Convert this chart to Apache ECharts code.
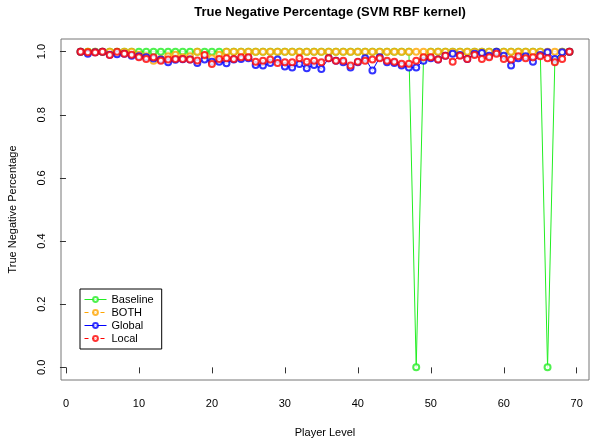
<!DOCTYPE html>
<html>
<head>
<meta charset="utf-8">
<script src="https://cdn.jsdelivr.net/npm/echarts@6/dist/echarts.min.js"></script>
<style>
    html, body { margin: 0; padding: 0; background: #fff; }
    #chart { width: 590px; height: 440px; }
</style>
</head>
<body>
<div id="chart"></div>
<script>
// player levels 2..69
var levels = [];
for (var l = 2; l <= 69; l++) levels.push(l);

// values, one per level (rows of 10 levels: 2-11, 12-21, ...)
var baseline = [
    1, 1, 1, 1, 1, 1, 1, 1, 1, 1,
    1, 1, 1, 1, 1, 1, 1, 1, 1, 1,
    1, 1, 1, 1, 1, 1, 1, 1, 1, 1,
    1, 1, 1, 1, 1, 1, 1, 1, 1, 1,
    1, 1, 1, 1, 1, 1, 0, 0.98, 1, 1,
    1, 1, 1, 1, 1, 1, 1, 1, 1, 1,
    1, 1, 1, 1, 0, 0.97, 1, 1
];
var both = [
    1, 1, 1, 1, 1, 0.995, 1, 1, 0.99, 0.985,
    0.971, 0.977, 0.985, 0.99, 0.982, 0.985, 1, 0.987, 0.979, 0.99,
    1, 1, 1, 1, 1, 1, 1, 1, 1, 1,
    1, 1, 1, 1, 1, 1, 1, 1, 1, 1,
    1, 1, 1, 1, 1, 1, 1, 1, 1, 1,
    1, 1, 1, 1, 1, 1, 1, 1, 1, 1,
    1, 1, 1, 1, 1, 1, 1, 1
];
var globalVals = [
    1, 0.993, 0.998, 1, 0.99, 0.992, 0.993, 0.987, 0.985, 0.982,
    0.978, 0.975, 0.966, 0.974, 0.976, 0.975, 0.964, 0.975, 0.968, 0.968,
    0.963, 0.975, 0.977, 0.979, 0.958, 0.956, 0.964, 0.975, 0.953, 0.95,
    0.961, 0.947, 0.958, 0.945, 0.979, 0.971, 0.966, 0.95, 0.966, 0.979,
    0.94, 0.982, 0.966, 0.964, 0.956, 0.95, 0.95, 0.971, 0.979, 0.975,
    0.987, 0.993, 0.989, 0.977, 0.993, 0.996, 0.987, 1, 0.987, 0.956,
    0.979, 0.985, 0.968, 0.989, 0.998, 0.977, 0.998, 1
];
var localVals = [
    1, 0.998, 0.997, 1, 0.989, 1, 0.993, 0.99, 0.982, 0.977,
    0.982, 0.971, 0.975, 0.977, 0.977, 0.975, 0.972, 0.989, 0.961, 0.977,
    0.979, 0.977, 0.982, 0.982, 0.968, 0.971, 0.975, 0.964, 0.966, 0.966,
    0.979, 0.968, 0.971, 0.966, 0.979, 0.971, 0.971, 0.956, 0.968, 0.971,
    0.975, 0.979, 0.971, 0.968, 0.962, 0.962, 0.971, 0.982, 0.982, 0.975,
    0.987, 0.968, 0.987, 0.977, 0.989, 0.977, 0.982, 0.993, 0.977, 0.975,
    0.985, 0.979, 0.982, 0.985, 0.979, 0.966, 0.977, 1
];
var xTicks = [0, 10, 20, 30, 40, 50, 60, 70];
var yTicks = [0, 0.2, 0.4, 0.6, 0.8, 1.0];

function pairs(vals) {
    return levels.map(function (lv, i) { return [lv, vals[i]]; });
}

var myechart = echarts.init(document.getElementById('chart'), null, { renderer: 'canvas' });
var font = 'Liberation Sans, Arial, sans-serif';

function lineSeries(name, vals, color, dashed) {
    return {
        name: name,
        type: 'line',
        data: pairs(vals),
        symbol: 'emptyCircle',
        symbolSize: 6,
        showSymbol: true,
        animation: false,
        itemStyle: { color: color, borderColor: color, borderWidth: 0.6, opacity: 0.8 },
        lineStyle: { color: color, width: 1, type: dashed ? [4, 4] : 'solid' }
    };
}

var option = {
    animation: false,
    textStyle: { fontFamily: font },
    title: {
        text: 'True Negative Percentage (SVM RBF kernel)',
        left: 325,
        textAlign: 'center',
        top: 1,
        textStyle: { fontSize: 13, fontWeight: 'bold', color: '#000', fontFamily: font }
    },
    legend: {
        orient: 'vertical',
        left: 80,
        top: 289,
        itemWidth: 22,
        itemHeight: 6,
        itemGap: 2,
        padding: [5, 8, 5, 4],
        borderColor: '#000',
        borderWidth: 1,
        lineStyle: { width: 1 },
        itemStyle: { borderWidth: 0.6 },
        textStyle: { fontSize: 11, color: '#000', fontFamily: font },
        data: ['Baseline', 'BOTH', 'Global', 'Local']
    },
    grid: {
        left: 61,
        right: 1,
        top: 39,
        bottom: 60,
        outerBoundsMode: 'none',
        show: true,
        borderColor: '#777',
        borderWidth: 1
    },
    xAxis: {
        type: 'value',
        min: -0.68,
        max: 71.68,
        name: 'Player Level',
        nameLocation: 'middle',
        nameGap: 47,
        nameTextStyle: { fontSize: 11, color: '#000' },
        axisLine: { show: false },
        splitLine: { show: false },
        axisTick: { show: true, customValues: xTicks, length: 6, lineStyle: { color: '#333' } },
        axisLabel: { customValues: xTicks, margin: 18, fontSize: 11, color: '#000' }
    },
    yAxis: {
        type: 'value',
        min: -0.04,
        max: 1.04,
        name: 'True Negative Percentage',
        nameLocation: 'middle',
        nameGap: 43,
        nameTextStyle: { fontSize: 11, color: '#000' },
        axisLine: { show: false },
        splitLine: { show: false },
        axisTick: { show: true, customValues: yTicks, length: 6, lineStyle: { color: '#333' } },
        axisLabel: {
            customValues: yTicks,
            rotate: 90,
            margin: 14,
            fontSize: 11,
            color: '#000',
            formatter: function (v) { return v.toFixed(1); }
        }
    },
    series: [
        lineSeries('Baseline', baseline, '#22ee22', false),
        lineSeries('BOTH', both, '#ffa500', true),
        lineSeries('Global', globalVals, '#0000ff', false),
        lineSeries('Local', localVals, '#ff0000', true)
    ]
};

myechart.setOption(option);
window.addEventListener('resize', function () {
    myechart.resize();
});
</script>
</body>
</html>
